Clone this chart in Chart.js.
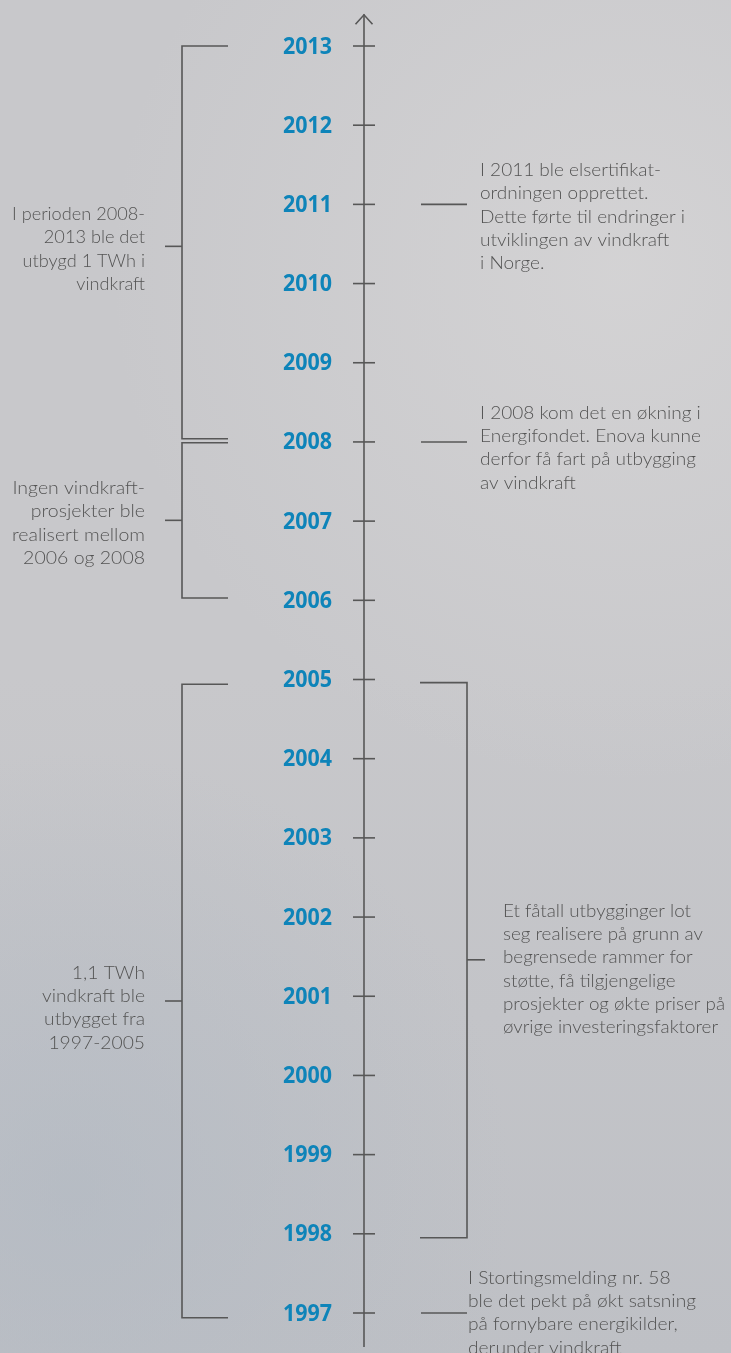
<!DOCTYPE html>
<html><head><meta charset="utf-8">
<script src="https://cdn.jsdelivr.net/npm/chart.js@4/dist/chart.umd.min.js"></script>
<style>html,body{margin:0;padding:0;background:#c6c7cb;}canvas{display:block}</style>
</head><body>
<canvas id="c" width="731" height="1353"></canvas>
<script>
// ---- data ----
const years = [1997,1998,1999,2000,2001,2002,2003,2004,2005,2006,2007,2008,2009,2010,2011,2012,2013];
const yearLabels = ["1997","1998","1999","2000","2001","2002","2003","2004","2005","2006","2007","2008","2009","2010","2011","2012","2013"];
const axisRange = [1996.57, 2013.40];
// left brackets: [from, to, middle-tick]
const leftSpanFrom = [2008.04, 2006.03, 1996.94];
const leftSpanTo   = [2013.00, 2007.99, 2004.94];
const leftSpanMid  = [2010.47, 2007.01, 2000.94];
// right bracket
const rightSpanFrom = [1997.95];
const rightSpanTo   = [2004.96];
const rightSpanMid  = [2001.46];
// right single connectors
const connectorYears = [2011, 2008, 1997];

const leftNotes = [
  ["I perioden 2008-","2013 ble det","utbygd 1 TWh i","vindkraft"],
  ["Ingen vindkraft-","prosjekter ble","realisert mellom","2006 og 2008"],
  ["1,1 TWh","vindkraft ble","utbygget fra","1997-2005"]
];
const rightNotes = [
  ["I 2011 ble elsertifikat-","ordningen opprettet.","Dette førte til endringer i","utviklingen av vindkraft","i Norge."],
  ["I 2008 kom det en økning i","Energifondet. Enova kunne","derfor få fart på utbygging","av vindkraft"],
  ["Et fåtall utbygginger lot","seg realisere på grunn av","begrensede rammer for","støtte, få tilgjengelige","prosjekter og økte priser på","øvrige investeringsfaktorer"],
  ["I Stortingsmelding nr. 58","ble det pekt på økt satsning","på fornybare energikilder,","derunder vindkraft"]
];
const leftNoteAnchor  = [2010.47, 2007.01, 2000.94];
const rightNoteAnchor = [2011, 2008, 2001.46, 1997];

// ---- layout / style ----
const AXIS_X = 364;
const LINE = '#575757';
const TEXT = '#545454';
const BLUE = '#0e84b9';
const LH = 23.3;
const NOTE_FONT = '300 18px Lato';
const leftLayout = [
  {dy:-32, w:133}, {dy:-32, w:133}, {dy:-28, w:103}
];
const rightLayout = [
  {x:480, dy:-34, w:205}, {x:480, dy:-29, w:221}, {x:503, dy:-49, w:222}, {x:468, dy:-35, w:228}
];

function fitScale(ctx, lines, w){
  let m = 0; lines.forEach(l=>{ m = Math.max(m, ctx.measureText(l).width); });
  return w / m;
}
function drawBlock(ctx, lines, x, y0, align, sx){
  ctx.textAlign = align; ctx.textBaseline = 'middle';
  lines.forEach((l,i)=>{
    ctx.save(); ctx.translate(x, y0 + i*LH); ctx.scale(sx,1); ctx.fillText(l,0,0); ctx.restore();
  });
}
function seg(ctx,x1,y1,x2,y2){ ctx.beginPath(); ctx.moveTo(x1,y1); ctx.lineTo(x2,y2); ctx.stroke(); }

const timelinePlugin = {
  id:'timeline',
  beforeDraw(chart){
    const ctx = chart.ctx, W = chart.width, H = chart.height;
    ctx.save();
    const g = ctx.createLinearGradient(0,0,0,H);
    g.addColorStop(0,'#c8c8cb'); g.addColorStop(0.5,'#c8c8cb'); g.addColorStop(1,'#bec0c5');
    ctx.fillStyle = g; ctx.fillRect(0,0,W,H);
    let r = ctx.createRadialGradient(W*0.85,H*0.2,10,W*0.85,H*0.2,W*0.7);
    r.addColorStop(0,'rgba(214,213,214,0.8)'); r.addColorStop(1,'rgba(214,213,214,0)');
    ctx.fillStyle = r; ctx.fillRect(0,0,W,H);
    r = ctx.createRadialGradient(W*0.1,H*0.88,10,W*0.1,H*0.88,W*0.6);
    r.addColorStop(0,'rgba(176,184,194,0.6)'); r.addColorStop(1,'rgba(176,184,194,0)');
    ctx.fillStyle = r; ctx.fillRect(0,0,W,H);
    ctx.restore();
  },
  beforeDatasetsDraw(chart){
    const ctx = chart.ctx, ys = chart.scales.y, xs = chart.scales.x;
    const X = v => xs.getPixelForValue(v), Y = v => ys.getPixelForValue(v);
    const ax = X(AXIS_X);
    ctx.save();
    ctx.strokeStyle = LINE; ctx.lineWidth = 1.6; ctx.lineCap = 'butt';
    // axis + arrow
    const top = Y(axisRange[1]), bot = Y(axisRange[0]);
    seg(ctx, ax, top, ax, bot);
    ctx.beginPath(); ctx.moveTo(ax-8.5, top+10); ctx.lineTo(ax, top+0.5); ctx.lineTo(ax+8.5, top+10); ctx.stroke();
    // left brackets
    const bx = X(182), bEnd = X(228), bTick = X(165);
    leftSpanFrom.forEach((f,i)=>{
      const y1 = Y(leftSpanTo[i]), y2 = Y(f);
      ctx.beginPath(); ctx.moveTo(bEnd,y1); ctx.lineTo(bx,y1); ctx.lineTo(bx,y2); ctx.lineTo(bEnd,y2); ctx.stroke();
      seg(ctx, bTick, Y(leftSpanMid[i]), bx, Y(leftSpanMid[i]));
    });
    // right bracket
    const rx = X(467), rStart = X(420), rTick = X(485);
    rightSpanFrom.forEach((f,i)=>{
      const y1 = Y(rightSpanTo[i]), y2 = Y(f);
      ctx.beginPath(); ctx.moveTo(rStart,y1); ctx.lineTo(rx,y1); ctx.lineTo(rx,y2); ctx.lineTo(rStart,y2); ctx.stroke();
      seg(ctx, rx, Y(rightSpanMid[i]), rTick, Y(rightSpanMid[i]));
    });
    // connectors
    connectorYears.forEach(v=>{ seg(ctx, X(421), Y(v), X(467), Y(v)); });
    // year labels
    ctx.fillStyle = BLUE;
    ctx.font = 'bold 23px "Open Sans"';
    const ysx = 49 / ctx.measureText('2013').width;
    ctx.textAlign = 'right'; ctx.textBaseline = 'middle';
    years.forEach((v,i)=>{
      ctx.save(); ctx.translate(X(332), Y(v)+1); ctx.scale(ysx,1); ctx.fillText(yearLabels[i],0,0); ctx.restore();
    });
    // notes
    ctx.fillStyle = TEXT;
    ctx.font = NOTE_FONT;
    leftNotes.forEach((lines,i)=>{
      const L = leftLayout[i];
      drawBlock(ctx, lines, X(145), Y(leftNoteAnchor[i]) + L.dy, 'right', fitScale(ctx, lines, L.w));
    });
    rightNotes.forEach((lines,i)=>{
      const L = rightLayout[i];
      drawBlock(ctx, lines, X(L.x), Y(rightNoteAnchor[i]) + L.dy, 'left', fitScale(ctx, lines, L.w));
    });
    ctx.restore();
  }
};

function make(){
  new Chart(document.getElementById('c'), {
    type:'scatter',
    data:{ datasets:[{
      data: years.map(v=>({x:AXIS_X, y:v})),
      pointStyle:'line', radius:11, hoverRadius:11,
      borderColor:LINE, borderWidth:1.6, showLine:false, clip:false
    }]},
    options:{
      responsive:false, animation:false, devicePixelRatio:1, events:[],
      layout:{padding:0, autoPadding:false},
      plugins:{legend:{display:false}, tooltip:{enabled:false}},
      scales:{
        x:{type:'linear', min:0, max:731, display:false},
        y:{type:'linear', min:1996.49487, max:2013.5809, display:false}
      }
    },
    plugins:[timelinePlugin]
  });
}
Promise.all([document.fonts.load(NOTE_FONT), document.fonts.load('bold 23px "Open Sans"')]).then(make, make);
</script>
</body></html>
